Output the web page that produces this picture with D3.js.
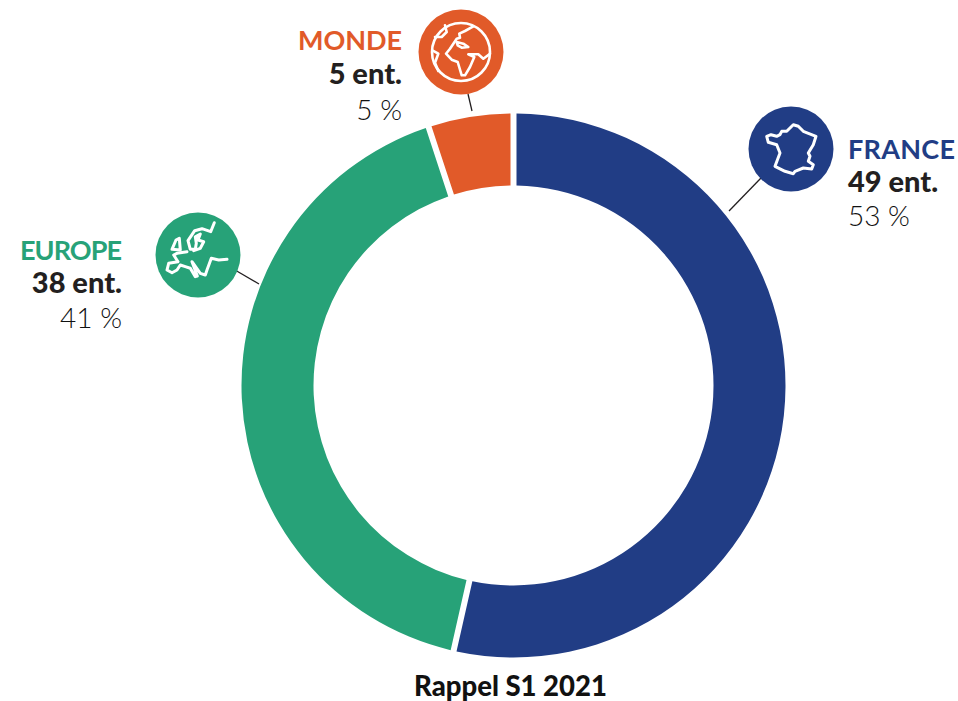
<!DOCTYPE html>
<html>
<head>
<meta charset="utf-8">
<script src="https://cdn.jsdelivr.net/npm/d3@7"></script>
<style>
  html, body { margin: 0; padding: 0; background: #fff; }
  svg { display: block; }
  text { font-family: Lato, sans-serif; }
</style>
</head>
<body>
<div id="chart"></div>
<script>
// --- data ---
const categories = ['FRANCE', 'EUROPE', 'MONDE'];
const companies = [49, 38, 5];
const shares = [53, 41, 5];
const colors = ['#213d85', '#27a278', '#e15a29'];
const footer = 'Rappel S1 2021';

const width = 958, height = 701;
const cx = 513.5, cy = 385.5;
const outer = 272, inner = 200;

const svg = d3.select('#chart').append('svg')
  .attr('width', width).attr('height', height)
  .attr('viewBox', `0 0 ${width} ${height}`);

// --- ring ---
const pie = d3.pie().sort(null)(shares);
const arc = d3.arc().innerRadius(inner).outerRadius(outer)
  .padAngle(6 / 236).padRadius(236);

svg.append('g').attr('transform', `translate(${cx},${cy})`)
  .selectAll('path').data(pie).enter().append('path')
  .attr('d', arc)
  .attr('fill', (d, i) => colors[i]);

// --- callouts: badge position, text anchor, baselines, leader end, title width ---
const layout = [
  { bx: 791, by: 149, tx: 848, anchor: 'start', y0: 159, y1: 192, y2: 226, lx1: 761, ly1: 178, lx2: 729, ly2: 211, tw: 107 },
  { bx: 198, by: 255, tx: 122, anchor: 'end', y0: 260, y1: 293, y2: 328, lx1: 235, ly1: 270, lx2: 259, ly2: 284, tw: 102 },
  { bx: 461, by: 52, tx: 402, anchor: 'end', y0: 50, y1: 84, y2: 120, lx1: 468, ly1: 94, lx2: 472, ly2: 111, tw: 104 }
];

// icon outlines, local coordinates around the badge centre
const icons = [
  ['M-24.3,-12.7 L-20,-14.3 L-14.3,-12.7 L-11,-14.3 L-9.3,-17.7 L-4.3,-17.7 L2.3,-24.3 L7.3,-22.7 L12.3,-17.7 L25,-12.7 L22.3,-4.3 L17.3,4 L19,7.3 L17.3,12.3 L22.3,15.7 L20.7,20 L12.3,19 L4,22.3 L2.3,24.7 L-6,22.3 L-16,17.3 L-11,4 L-14.3,-4.3 L-22.7,-6.7 Z'],
  ['M16.3,-32.3 L12.7,-23.3 L4,-26.3 L-3.3,-24.3 L-10,-14.3 L-7.7,-5.7 L-2.7,-5.7 L-1.7,-11.7 L-2.7,-18.3 L2.3,-21 L0,-15 L5.7,-13.3 L2.3,-6.7 L-4.3,-4.3',
   'M-26,-5.7 L-22,-15 L-18.7,-16.7 L-17.7,-5 Z',
   'M-11,-3.3 L-21,-1.7 L-24.3,0 L-20,6.7 L-29.3,8.3 L-31,15 L-26,17.7 L-21,15 L-17.7,10 L-12.7,11.7 L-7.7,13.3 L-2.7,21.7 L-0.7,21 L-6,6.7 L2.3,18.3 L7.3,20 L9,15 L13.3,3.3 L20.7,5 L29,4.3']
];

const g = svg.selectAll('g.callout').data(categories).enter().append('g').attr('class', 'callout');

g.append('line')
  .attr('x1', (d, i) => layout[i].lx1).attr('y1', (d, i) => layout[i].ly1)
  .attr('x2', (d, i) => layout[i].lx2).attr('y2', (d, i) => layout[i].ly2)
  .attr('stroke', '#231f20').attr('stroke-width', 1.3);

g.append('circle')
  .attr('cx', (d, i) => layout[i].bx).attr('cy', (d, i) => layout[i].by)
  .attr('r', 42.5)
  .attr('fill', (d, i) => colors[i]);

// France and Europe icons
g.filter((d, i) => i < 2).append('g')
  .attr('transform', (d, i) => `translate(${layout[i].bx},${layout[i].by})`)
  .selectAll('path').data((d, i) => icons[i]).enter().append('path')
  .attr('d', d => d)
  .attr('fill', 'none').attr('stroke', '#fff').attr('stroke-width', 3)
  .attr('stroke-linejoin', 'round').attr('stroke-linecap', 'round');

// globe icon
const globe = svg.append('g')
  .attr('transform', `translate(${layout[2].bx},${layout[2].by})`)
  .attr('fill', 'none').attr('stroke', '#fff').attr('stroke-width', 2.6)
  .attr('stroke-linejoin', 'round').attr('stroke-linecap', 'round');
globe.append('circle').attr('r', 29);
[
  'M-16,-26.7 L-14.3,-20 L-19.3,-15 L-26,-15',
  'M12.3,-25.7 L4,-21 L-1.7,-18.3 L-1,-14.3 L-4.3,-13.3 L-11,-3.3 L-15,1.7 L-9.3,7.7 L-3.3,10 L0.7,23.3 L4,23.3 L9,15 L13.3,5 L7.3,2.3 L17.3,2.3 L22.3,6.7 L29,1.7',
  'M-4.3,-10 L2.3,-8.3 L7.3,-5 L0.7,-4.3 L-3.3,-6.7 Z',
  'M-28.7,-1.7 L-22.7,1.7 L-26,10.7 L-22.7,19'
].forEach(p => globe.append('path').attr('d', p));

// --- text ---
g.append('text')
  .attr('x', (d, i) => layout[i].tx).attr('y', (d, i) => layout[i].y0)
  .attr('text-anchor', (d, i) => layout[i].anchor)
  .attr('font-size', 27).attr('font-weight', 700)
  .attr('textLength', (d, i) => layout[i].tw)
  .attr('fill', (d, i) => colors[i])
  .text(d => d);

g.append('text')
  .attr('x', (d, i) => layout[i].tx).attr('y', (d, i) => layout[i].y1)
  .attr('text-anchor', (d, i) => layout[i].anchor)
  .attr('font-size', 29).attr('font-weight', 900)
  .attr('fill', '#231f20')
  .text((d, i) => `${companies[i]} ent.`);

g.append('text')
  .attr('x', (d, i) => layout[i].tx).attr('y', (d, i) => layout[i].y2)
  .attr('text-anchor', (d, i) => layout[i].anchor)
  .attr('font-size', 28).attr('font-weight', 300)
  .attr('fill', '#111')
  .text((d, i) => `${shares[i]} %`);

svg.append('text')
  .attr('x', 510.5).attr('y', 696)
  .attr('text-anchor', 'middle')
  .attr('font-size', 27.5).attr('font-weight', 900)
  .attr('fill', '#111')
  .text(footer);
</script>
</body>
</html>
